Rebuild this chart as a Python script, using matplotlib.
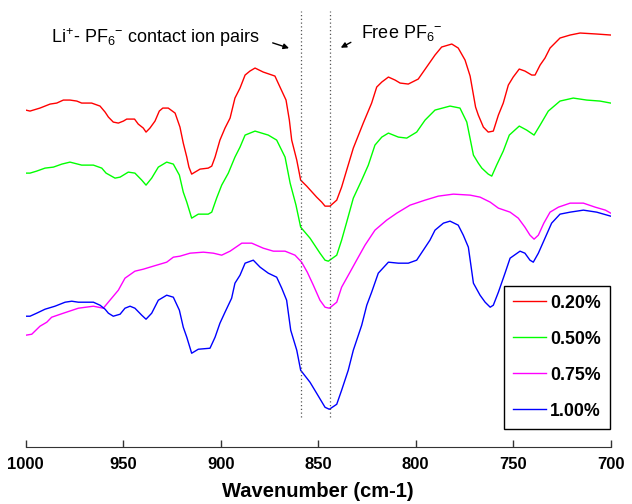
import matplotlib
matplotlib.use('Agg')
import matplotlib.pyplot as plt

plt.rcParams['font.family'] = ['Liberation Sans', 'DejaVu Sans']
plt.rcParams['mathtext.default'] = 'regular'

# spectra, absorbance in arbitrary units (stacked offsets)
wn_red = [1000, 997.8, 992.7, 987.5, 984.1, 980.7, 977.3, 973.8, 971.3, 966.2, 961.9, 959.3, 957.6, 955.1,
          952.5, 949.9, 948.2, 944.2, 942.3, 939.7, 938.3, 936.3, 933.7, 931.5, 929.7, 926.9, 923.4,
          920.9, 919.2, 917.4, 916.3, 914.9, 910.6, 906.4, 904.6, 902.9, 900.4, 897.8, 895.2, 892.7,
          890.1, 887.5, 885, 882.4, 878.2, 872.2, 869.6, 866.5, 864.8, 863.6, 861, 859, 855.9, 850.8,
          848.2, 846.5, 844, 840.5, 838, 835.4, 832, 826.9, 822.6, 820, 817.4, 814, 810.6, 808, 803.8,
          798.7, 794.4, 790.1, 786.7, 781.5, 778.2, 774.7, 772.1, 769.3, 767.9, 765.3, 762.8, 760.2,
          757.6, 755.1, 752.5, 750, 746.9, 744, 740.5, 738.8, 736.2, 733.7, 731.1, 726, 720.8, 715.7,
          707.2, 700]
ab_red = [3.40, 3.39, 3.42, 3.46, 3.47, 3.50, 3.50, 3.49, 3.47, 3.47, 3.44, 3.38, 3.33, 3.28,
          3.27, 3.29, 3.31, 3.31, 3.26, 3.22, 3.18, 3.22, 3.29, 3.39, 3.42, 3.42, 3.37,
          3.23, 3.07, 2.93, 2.83, 2.76, 2.81, 2.82, 2.84, 2.93, 3.10, 3.22, 3.32, 3.52,
          3.62, 3.75, 3.79, 3.82, 3.78, 3.74, 3.63, 3.50, 3.30, 3.10, 2.90, 2.70, 2.64, 2.53,
          2.48, 2.44, 2.44, 2.50, 2.63, 2.80, 3.02, 3.27, 3.47, 3.63, 3.68, 3.73, 3.70, 3.67, 3.66,
          3.71, 3.83, 3.95, 4.03, 4.06, 4.02, 3.90, 3.74, 3.43, 3.35, 3.23, 3.18, 3.19,
          3.35, 3.47, 3.65, 3.73, 3.81, 3.79, 3.75, 3.75, 3.85, 3.92, 4.02, 4.12, 4.15, 4.17,
          4.16, 4.15]

wn_green = [1000, 997.8, 994.4, 990.1, 985.8, 981.5, 977.3, 971.3, 965.3, 961, 958.8, 954.2, 951.6, 947.4,
            944, 940.5, 938.3, 935.4, 932, 927.7, 924.3, 921.2, 919.2, 917.4, 914.9, 911.5, 906.4,
            904.6, 902.1, 899.5, 896.1, 892.7, 890.1, 887.5, 882.4, 875.6, 871.3, 867, 864.4, 861.4,
            859, 854.2, 849.1, 846.5, 844.8, 840.5, 838, 835.4, 832, 827.7, 824.3, 820.9, 817.4, 814,
            808.9, 804.6, 799.5, 795.2, 790.1, 782.4, 777.3, 773.8, 770.4, 767.9, 766.1, 762.8, 761,
            758.5, 755.1, 752, 746.9, 743.1, 739.3, 736.2, 732, 726, 719.2, 712.3, 705.5, 700]
ab_green = [2.77, 2.77, 2.79, 2.82, 2.83, 2.86, 2.88, 2.85, 2.85, 2.82, 2.77, 2.72, 2.73, 2.78,
            2.77, 2.70, 2.65, 2.72, 2.83, 2.88, 2.86, 2.75, 2.58, 2.48, 2.32, 2.36, 2.36,
            2.38, 2.52, 2.65, 2.77, 2.93, 3.03, 3.15, 3.19, 3.15, 3.10, 2.93, 2.67, 2.45,
            2.23, 2.12, 1.97, 1.90, 1.89, 1.95, 2.10, 2.28, 2.52, 2.70, 2.85, 3.05, 3.13, 3.17,
            3.13, 3.12, 3.18, 3.30, 3.40, 3.44, 3.42, 3.28, 2.95, 2.87, 2.82, 2.76, 2.74,
            2.85, 2.99, 3.15, 3.24, 3.20, 3.15, 3.25, 3.39, 3.49, 3.52, 3.50, 3.49, 3.47]

wn_mag = [1000, 996.9, 992.7, 989.2, 986.7, 980.7, 973, 965.3, 960.2, 956.8, 952.5, 949.1, 944, 939.7,
          934.6, 927.7, 924.3, 920.9, 915.7, 908.9, 903.8, 899.5, 895.2, 889.2, 884.1, 878.2, 873,
          867, 861.9, 858.5, 855.6, 852.5, 849.1, 846.5, 844.3, 840.5, 838, 833.7, 830.3, 826,
          820.9, 814.9, 809.7, 802.9, 795.2, 788.4, 780.7, 772.1, 767, 761.8, 757.6, 751.6, 747.4,
          744, 741.4, 739.3, 737.1, 734.3, 731.1, 726.8, 720.8, 714, 708, 702.7, 700]
ab_mag = [1.15, 1.16, 1.24, 1.28, 1.33, 1.37, 1.42, 1.44, 1.42, 1.50, 1.60, 1.72, 1.79, 1.81,
          1.84, 1.88, 1.93, 1.94, 1.97, 1.98, 1.97, 1.95, 1.99, 2.07, 2.07, 2.02, 1.99,
          1.99, 1.95, 1.88, 1.78, 1.65, 1.50, 1.43, 1.42, 1.48, 1.63, 1.78, 1.90, 2.05,
          2.20, 2.30, 2.37, 2.45, 2.50, 2.54, 2.56, 2.55, 2.53, 2.48, 2.42, 2.38, 2.32,
          2.23, 2.15, 2.11, 2.15, 2.27, 2.38, 2.43, 2.47, 2.47, 2.43, 2.40, 2.37]

wn_blue = [1000, 997.8, 994.4, 990.1, 985, 979.8, 976.4, 973, 965.3, 961.9, 959.3, 957.6, 955.1, 951.6,
           949.1, 946.5, 944, 940.5, 938.3, 935.4, 932, 927.7, 924.3, 921.2, 919.2, 917.4, 914.9,
           911.5, 905.5, 902.9, 900.4, 897.8, 894.4, 892.7, 890.1, 887.5, 883.3, 879.8, 875.6, 871.3,
           868.7, 866.2, 864.1, 861, 859, 854.2, 850.8, 846.5, 844.3, 840.5, 838, 834.6, 832, 827.7,
           825.1, 822.6, 819.2, 814, 808.9, 803.8, 799.5, 796.1, 792.7, 790.1, 785.8, 782.4, 778.2,
           775.6, 773, 770.4, 767, 764.4, 761.8, 760.2, 757.6, 754.2, 751.6, 746.5, 744, 741.4,
           739.7, 737.1, 733.7, 730.3, 726, 720.8, 714, 707.2, 700]
ab_blue = [1.34, 1.34, 1.37, 1.41, 1.44, 1.48, 1.49, 1.48, 1.48, 1.45, 1.41, 1.37, 1.34, 1.36,
           1.42, 1.44, 1.42, 1.35, 1.31, 1.37, 1.50, 1.55, 1.53, 1.40, 1.23, 1.13, 0.97,
           1.01, 1.02, 1.13, 1.27, 1.38, 1.52, 1.67, 1.75, 1.87, 1.90, 1.83, 1.77, 1.73,
           1.62, 1.50, 1.20, 1.00, 0.80, 0.68, 0.57, 0.43, 0.41, 0.46, 0.60, 0.80, 1.00, 1.25,
           1.45, 1.58, 1.77, 1.88, 1.87, 1.87, 1.90, 2.00, 2.10, 2.20, 2.27, 2.29, 2.25,
           2.15, 2.03, 1.67, 1.55, 1.48, 1.43, 1.45, 1.58, 1.77, 1.92, 1.99, 1.97, 1.90,
           1.88, 1.97, 2.12, 2.27, 2.36, 2.38, 2.40, 2.38, 2.34]

labels = ['0.20%', '0.50%', '0.75%', '1.00%']
colors = ['#ff0000', '#00ff00', '#ff00ff', '#0000ff']

# band markers
contact_wn = 859
free_wn = 844

fig = plt.figure(figsize=(6.32, 5.04), dpi=100)
ax = fig.add_axes([0.0407, 0.1125, 0.9256, 0.8875])

for wn, ab, lab, c in zip([wn_red, wn_green, wn_mag, wn_blue],
                          [ab_red, ab_green, ab_mag, ab_blue], labels, colors):
    ax.plot(wn, ab, color=c, lw=1.0, label=lab)

ax.vlines([contact_wn, free_wn], 0.33, 4.39, colors='#555555', linestyles=(0, (1, 2)), lw=0.9)

ax.set_xlim(1000, 700)
ax.set_ylim(0.03, 4.5)
ax.set_xticks([1000, 950, 900, 850, 800, 750, 700])
ax.set_yticks([])
for s in ['top', 'right', 'left']:
    ax.spines[s].set_visible(False)
ax.spines['bottom'].set_color('#333333')
ax.tick_params(axis='x', direction='in', length=5, width=1, colors='#333333',
               labelcolor='black', labelsize=12, pad=7)
for t in ax.get_xticklabels():
    t.set_fontweight('bold')
ax.set_xlabel('Wavenumber (cm-1)', fontsize=14.5, fontweight='bold', labelpad=7)

ax.annotate('', xy=(863.6, 4.01), xytext=(874.7, 4.08),
            arrowprops=dict(arrowstyle='-|>', color='black', lw=1, mutation_scale=8))
ax.text(879.8, 4.12, 'Li$^{+}$- PF$_{6}$$^{-}$ contact ion pairs', ha='right', va='center', fontsize=13)
ax.annotate('', xy=(839.7, 4.01), xytext=(832, 4.09),
            arrowprops=dict(arrowstyle='-|>', color='black', lw=1, mutation_scale=8))
ax.text(828.2, 4.17, 'Free PF$_{6}$$^{-}$', ha='left', va='center', fontsize=13)

leg = ax.legend(loc='lower right', bbox_to_anchor=(0.998, 0.042), borderaxespad=0,
                fancybox=False, edgecolor='black', framealpha=1, fontsize=12.8,
                labelspacing=1.07, handlelength=1.9, borderpad=0.5, handletextpad=0.2)
leg.get_frame().set_linewidth(1)
for t in leg.get_texts():
    t.set_fontweight('bold')

fig.savefig('out.png', dpi=100)
